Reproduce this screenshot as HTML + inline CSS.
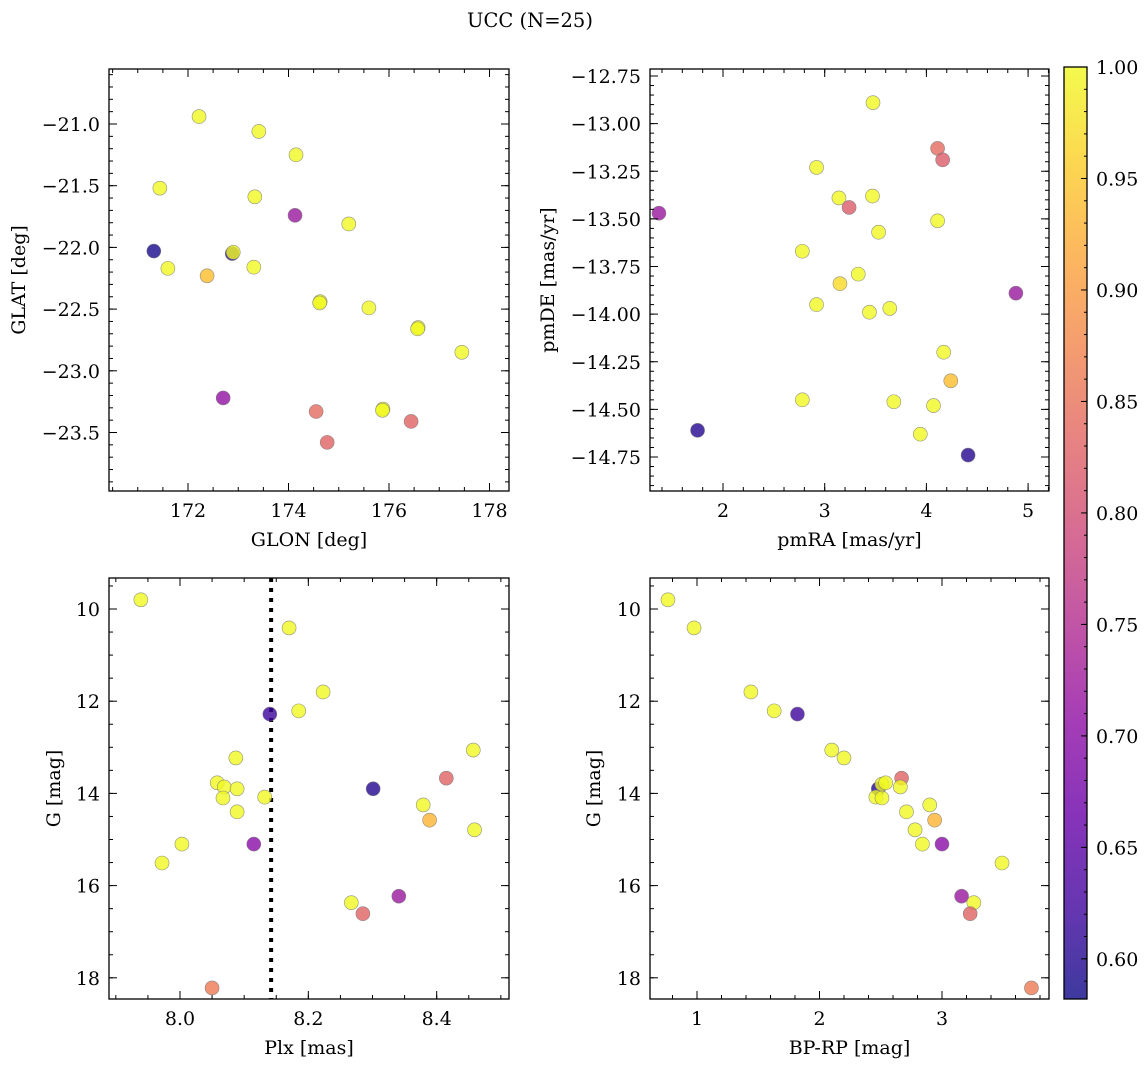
<!DOCTYPE html>
<html><head><meta charset="utf-8"><style>
html,body{margin:0;padding:0;background:#fff;}
svg{display:block;font-family:"DejaVu Serif","Liberation Serif",serif;}
</style></head><body>
<svg id="fig" width="1148" height="1067" viewBox="0 0 1148 1067" xmlns="http://www.w3.org/2000/svg">
<text x="530" y="27" font-size="19.5" text-anchor="middle">UCC (N=25)</text>
</svg>
<script>
// Panel 1: GLON vs GLAT
const glon = [172.22,173.41,174.15,171.44,173.33,174.13,175.20,171.32,172.88,172.90,171.60,173.31,172.38,174.63,174.62,175.60,176.58,176.57,177.45,172.70,174.55,175.88,175.87,176.44,174.77];
const glat = [-20.94,-21.06,-21.25,-21.52,-21.59,-21.74,-21.81,-22.03,-22.05,-22.04,-22.17,-22.16,-22.23,-22.44,-22.45,-22.49,-22.65,-22.66,-22.85,-23.22,-23.33,-23.31,-23.32,-23.41,-23.58];
const prob1 = [1.0,1.0,1.0,1.0,1.0,0.72,1.0,0.59,0.60,1.0,1.0,1.0,0.94,1.0,1.0,1.0,1.0,1.0,1.0,0.71,0.84,1.0,1.0,0.83,0.83];
// Panel 2: pmRA vs pmDE
const pmra = [3.475,4.11,4.16,2.92,1.37,3.14,3.47,3.24,4.11,3.53,2.78,3.33,3.15,2.92,3.44,3.64,4.88,4.17,4.24,2.78,3.68,4.07,3.94,1.75,4.41];
const pmde = [-12.89,-13.13,-13.19,-13.23,-13.47,-13.39,-13.38,-13.44,-13.51,-13.57,-13.67,-13.79,-13.84,-13.95,-13.99,-13.97,-13.89,-14.20,-14.35,-14.45,-14.46,-14.48,-14.63,-14.61,-14.74];
const prob2 = [1.0,0.84,0.82,1.0,0.72,1.0,1.0,0.82,1.0,1.0,1.0,1.0,0.97,1.0,1.0,1.0,0.72,1.0,0.94,1.0,1.0,1.0,1.0,0.60,0.60];
// Panel 3: Plx vs G
const plx = [7.939,8.170,8.223,8.185,8.140,8.457,8.087,8.058,8.069,8.067,8.089,8.132,8.301,8.415,8.379,8.389,8.089,8.459,8.003,8.115,7.972,8.341,8.267,8.285,8.050];
const gmag3 = [9.80,10.41,11.80,12.21,12.28,13.06,13.23,13.77,13.86,14.10,13.90,14.08,13.90,13.67,14.25,14.58,14.40,14.79,15.10,15.10,15.51,16.23,16.37,16.61,18.22];
const prob3 = [1.0,1.0,1.0,1.0,0.62,1.0,1.0,1.0,1.0,1.0,1.0,1.0,0.60,0.83,1.0,0.93,1.0,1.0,1.0,0.70,1.0,0.72,1.0,0.83,0.86];
// Panel 4: BP-RP vs G
const bprp = [0.763,0.976,1.44,1.63,1.82,2.10,2.20,2.67,2.48,2.51,2.66,2.46,2.51,2.71,2.90,2.94,2.78,2.84,3.00,3.49,3.16,3.26,3.23,3.73,2.54];
const gmag4 = [9.80,10.41,11.80,12.21,12.28,13.06,13.23,13.67,13.90,13.80,13.86,14.08,14.10,14.40,14.25,14.58,14.79,15.10,15.10,15.51,16.23,16.37,16.61,18.22,13.77];
const prob4 = [1.0,1.0,1.0,1.0,0.62,1.0,1.0,0.83,0.60,1.0,1.0,1.0,1.0,1.0,1.0,0.93,1.0,1.0,0.70,1.0,0.72,1.0,0.83,0.86,1.0];
// Ticks
const p1xTicks = [172,174,176,178];
const p1yTicks = [-21.0,-21.5,-22.0,-22.5,-23.0,-23.5];
const p2xTicks = [2,3,4,5];
const p2yTicks = [-12.75,-13.00,-13.25,-13.50,-13.75,-14.00,-14.25,-14.50,-14.75];
const p34yTicks = [10,12,14,16,18];
const p3xTicks = [8.0,8.2,8.4];
const p4xTicks = [1,2,3];
const cbTicks = [0.60,0.65,0.70,0.75,0.80,0.85,0.90,0.95,1.00];
const plxLine = 8.142;
const vmin = 0.582, vmax = 1.0;

const FS = 19;
const NS = "http://www.w3.org/2000/svg";
const svg = document.getElementById('fig');
function mk(tag, attrs, parent){ const e=document.createElementNS(NS,tag); for(const k in attrs) e.setAttribute(k,attrs[k]); (parent||svg).appendChild(e); return e; }

const plasma = [[13,8,135],[65,4,157],[106,0,168],[143,13,164],[177,42,144],[204,71,120],[225,100,98],[242,132,75],[252,166,54],[252,206,37],[240,249,33]];
function cmap(p){
  let t=(p-vmin)/(vmax-vmin); t=Math.max(0,Math.min(1,t));
  const f=t*10, i=Math.min(9,Math.floor(f)), r=f-i;
  const c=plasma[i].map((v,k)=>Math.round(v+(plasma[i+1][k]-v)*r));
  return `rgb(${c[0]},${c[1]},${c[2]})`;
}

function panel(cfg){
  const g = mk('g',{});
  
  
  const {L,R,T,B} = cfg;
  const sx = v => cfg.x0px + (v-cfg.x0)*cfg.xs;
  const sy = v => cfg.y0px + (v-cfg.y0)*cfg.ys;
  const pts = mk('g',{},g);
  if(cfg.vline!==undefined){
    const ln = mk('line',{x1:sx(cfg.vline),x2:sx(cfg.vline),y1:T,y2:B,stroke:'#000','stroke-width':4,'stroke-dasharray':'4 6'},pts);
    
    
  }
  for(let i=0;i<cfg.xs_.length;i++){
    const c = mk('circle',{cx:sx(cfg.xs_[i]),cy:sy(cfg.ys_[i]),r:7,fill:cmap(cfg.pr[i]),'fill-opacity':0.8,stroke:'#777','stroke-width':0.6,'stroke-opacity':0.8},pts);
    
    
  }
  const tk = mk('g',{stroke:'#000','stroke-width':1},g);
  const lo = Math.min(cfg.xlo,cfg.xhi), hi=Math.max(cfg.xlo,cfg.xhi);
  for(let v=Math.ceil(lo/cfg.xm-1e-6)*cfg.xm; v<=hi+1e-9; v+=cfg.xm){
    const x=sx(v); if(x<L||x>R) continue;
    mk('line',{x1:x,x2:x,y1:B,y2:B-4},tk); mk('line',{x1:x,x2:x,y1:T,y2:T+4},tk);
  }
  const ylo=Math.min(cfg.ylo,cfg.yhi), yhi=Math.max(cfg.ylo,cfg.yhi);
  for(let v=Math.ceil(ylo/cfg.ym-1e-6)*cfg.ym; v<=yhi+1e-9; v+=cfg.ym){
    const y=sy(v); if(y<T||y>B) continue;
    mk('line',{x1:L,x2:L+4,y1:y,y2:y},tk); mk('line',{x1:R,x2:R-4,y1:y,y2:y},tk);
  }
  cfg.xt.forEach(v=>{
    const x=sx(v);
    mk('line',{x1:x,x2:x,y1:B,y2:B-8},tk); mk('line',{x1:x,x2:x,y1:T,y2:T+8},tk);
    const t=mk('text',{x:x,y:B+26,'font-size':FS,'text-anchor':'middle',fill:'#000'},g);
    t.textContent = v.toFixed(cfg.xd);
    
    
  });
  cfg.yt.forEach(v=>{
    const y=sy(v);
    mk('line',{x1:L,x2:L+8,y1:y,y2:y},tk); mk('line',{x1:R,x2:R-8,y1:y,y2:y},tk);
    const t=mk('text',{x:L-9,y:y+7,'font-size':FS,'text-anchor':'end',fill:'#000'},g);
    t.textContent = (v<0?'\u2212':'')+Math.abs(v).toFixed(cfg.yd);
    
    
  });
  mk('rect',{x:L,y:T,width:R-L,height:B-T,fill:'none',stroke:'#000','stroke-width':1.3},g);
  const xl=mk('text',{x:(L+R)/2,y:B+55,'font-size':FS,'text-anchor':'middle'},g);
  xl.textContent=cfg.xlabel;
  
  
  const yl=mk('text',{x:0,y:0,'font-size':FS,'text-anchor':'middle',transform:`translate(${cfg.ylx},${(T+B)/2}) rotate(-90)`},g);
  yl.textContent=cfg.ylabel;
  
  
}

panel({name:'glon-glat-panel',L:109,R:509,T:69,B:491,x0:172,x0px:188,xs:50.25,y0:-21,y0px:124,ys:-123.4,
  xlo:170.4,xhi:178.4,ylo:-24,yhi:-20.5,xm:0.5,ym:0.1,xt:p1xTicks,yt:p1yTicks,xd:0,yd:1,
  xs_:glon,ys_:glat,pr:prob1,xlabel:'GLON [deg]',ylabel:'GLAT [deg]',ylx:25});
panel({name:'pm-panel',L:650,R:1049,T:69,B:491,x0:2,x0px:723,xs:101.7,y0:-12.75,y0px:76,ys:-190.5,
  xlo:1.2,xhi:5.3,ylo:-15,yhi:-12.7,xm:0.2,ym:0.05,xt:p2xTicks,yt:p2yTicks,xd:0,yd:2,
  xs_:pmra,ys_:pmde,pr:prob2,xlabel:'pmRA [mas/yr]',ylabel:'pmDE [mas/yr]',ylx:554});
panel({name:'plx-g-panel',L:109,R:509,T:578,B:999,x0:8,x0px:180,xs:641.7,y0:10,y0px:609,ys:46.1,
  xlo:7.85,xhi:8.55,ylo:9,yhi:19,xm:0.05,ym:0.5,xt:p3xTicks,yt:p34yTicks,xd:1,yd:0,vline:plxLine,
  xs_:plx,ys_:gmag3,pr:prob3,xlabel:'Plx [mas]',ylabel:'G [mag]',ylx:60});
panel({name:'cmd-panel',L:650,R:1049,T:578,B:999,x0:1,x0px:697,xs:122.5,y0:10,y0px:609,ys:46.1,
  xlo:0.6,xhi:3.9,ylo:9,yhi:19,xm:0.2,ym:0.5,xt:p4xTicks,yt:p34yTicks,xd:0,yd:0,
  xs_:bprp,ys_:gmag4,pr:prob4,xlabel:'BP-RP [mag]',ylabel:'G [mag]',ylx:600});

// Colorbar
(function(){
  const L=1064,R=1087,T=67,B=999;
  const cy = v => T + (vmax-v)/(vmax-vmin)*(B-T);
  const g=mk('g',{});
  
  
  const defs=mk('defs',{},g);
  const lg=mk('linearGradient',{id:'cbgrad',x1:0,y1:1,x2:0,y2:0},defs);
  for(let i=0;i<=20;i++){ const p=vmin+(vmax-vmin)*i/20; mk('stop',{offset:i/20,'stop-color':cmap(p),'stop-opacity':0.8},lg); }
  mk('rect',{x:L,y:T,width:R-L,height:B-T,fill:'url(#cbgrad)'},g);
  for(let v=0.59; v<=1.0001; v+=0.01){ const y=cy(v); mk('line',{x1:R,x2:R-3,y1:y,y2:y,stroke:'#000','stroke-width':1},g); }
  cbTicks.forEach(v=>{
    const y=cy(v);
    mk('line',{x1:R,x2:R-6,y1:y,y2:y,stroke:'#000','stroke-width':1},g);
    const t=mk('text',{x:R+9,y:y+7,'font-size':FS},g);
    t.textContent=v.toFixed(2);
    
    
  });
  mk('rect',{x:L,y:T,width:R-L,height:B-T,fill:'none',stroke:'#000','stroke-width':1.3},g);
})();
</script>
</body></html>
